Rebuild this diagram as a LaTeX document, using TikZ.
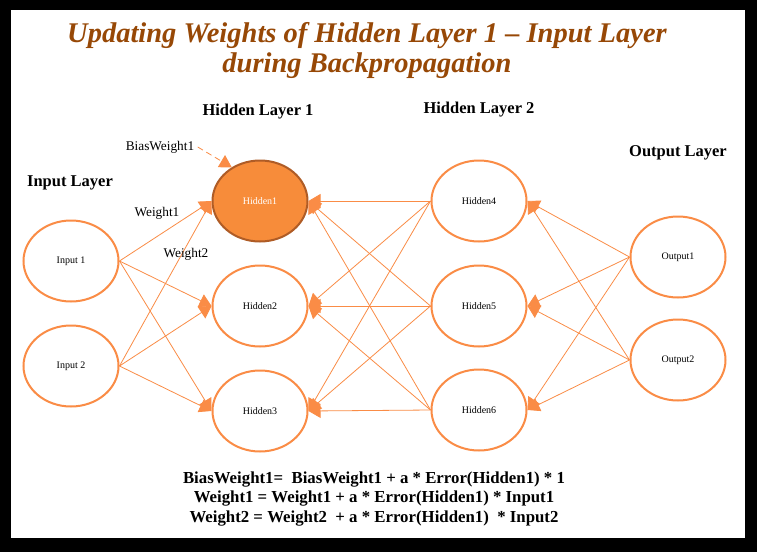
\documentclass[tikz,border=0pt]{standalone}
\usepackage{fontspec}
\setmainfont{Liberation Serif}
\usetikzlibrary{shapes.geometric,arrows.meta}
\definecolor{nnorange}{RGB}{247,140,58}
\definecolor{nnline}{RGB}{250,140,70}
\definecolor{nnbrown}{RGB}{151,72,6}
\definecolor{nnedge}{RGB}{175,92,38}

\begin{document}
\begin{tikzpicture}[x=1pt,y=-1pt,
    neuron/.style={ellipse,draw=nnline,line width=2pt,fill=white,
        minimum width=95pt,minimum height=81pt,inner sep=0pt,
        font=\fontsize{10}{12}\selectfont},
    link/.style={draw=nnline,line width=0.8pt,-{Triangle[length=12pt,width=14pt]}},
    layer/.style={font=\fontsize{16.5}{20}\selectfont\bfseries},
    wlabel/.style={font=\fontsize{13.3}{16}\selectfont}]

    % frame
    \fill[black] (0,0) rectangle (757,552);
    \fill[white] (11,10) rectangle (745,538);

    % title
    \node[text=nnbrown,align=center,font=\fontsize{28.5}{30}\selectfont\bfseries\itshape] (title) at (367,50)
        {Updating Weights of Hidden Layer 1 -- Input Layer\\during Backpropagation};

    % layer names
    \node[layer] (lin) at (70,183) {Input Layer};
    \node[layer] (lh1) at (258,112) {Hidden Layer 1};
    \node[layer] (lh2) at (479,110) {Hidden Layer 2};
    \node[layer] (lout) at (678,153) {Output Layer};

    % neurons
    \node[neuron] (in1) at (71,261) {Input 1};
    \node[neuron] (in2) at (71,366) {Input 2};
    \node[neuron,fill=nnorange,draw=nnedge,text=white] (h1) at (260,201) {Hidden1};
    \node[neuron] (h2) at (260,306) {Hidden2};
    \node[neuron] (h3) at (260,411) {Hidden3};
    \node[neuron] (h4) at (479,201) {Hidden4};
    \node[neuron] (h5) at (479,306) {Hidden5};
    \node[neuron] (h6) at (479,410) {Hidden6};
    \node[neuron] (o1) at (678,257) {Output1};
    \node[neuron] (o2) at (678,360) {Output2};

    % connections
    \foreach \a in {in1,in2}
        \foreach \b in {h1,h2,h3}
            \draw[link] (\a.east) -- (\b.west);
    \foreach \a in {h4,h5,h6}
        \foreach \b in {h1,h2,h3}
            \draw[link] (\a.west) -- (\b.east);
    \foreach \a in {o1,o2}
        \foreach \b in {h4,h5,h6}
            \draw[link] (\a.west) -- (\b.east);

    % weight labels
    \node[wlabel] (bias) at (160,147) {BiasWeight1};
    \node[wlabel] (w1) at (157,213) {Weight1};
    \node[wlabel] (w2) at (186,254) {Weight2};
    \draw[link,dash pattern=on 6pt off 4pt] (bias.east) -- (h1.130);

    % update rules
    \node[align=center,font=\fontsize{16.8}{19.5}\selectfont\bfseries] (rules) at (374,499)
        {BiasWeight1=~ BiasWeight1 + a * Error(Hidden1) * 1\\
         Weight1 = Weight1 + a * Error(Hidden1) * Input1\\
         Weight2 = Weight2 ~+ a * Error(Hidden1) ~* Input2};

\end{tikzpicture}
\end{document}
